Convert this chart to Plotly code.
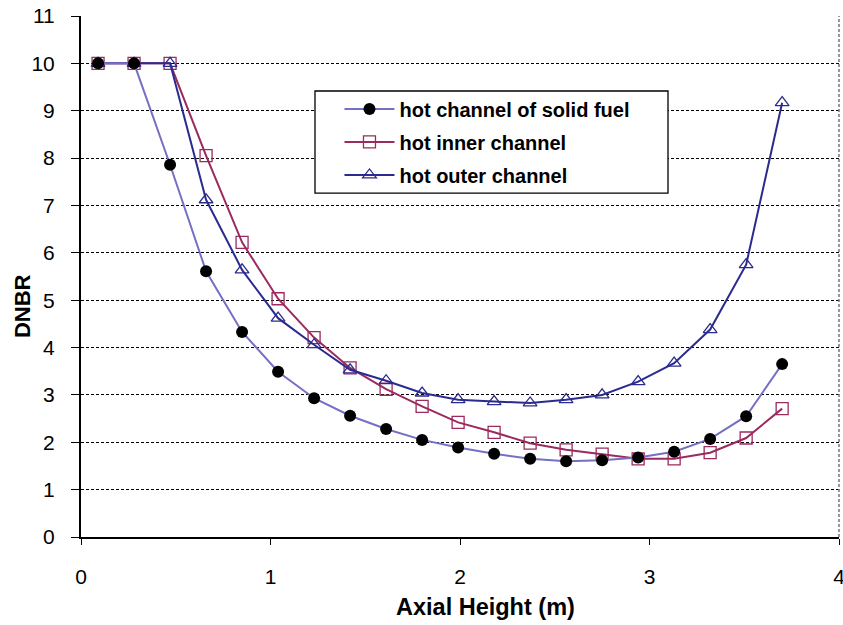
import plotly.graph_objects as go

# Axial positions (m) of the calculation nodes
axial_height = [0.09, 0.28, 0.47, 0.66, 0.85, 1.04, 1.23, 1.42, 1.61, 1.80,
                1.99, 2.18, 2.37, 2.56, 2.75, 2.94, 3.13, 3.32, 3.51, 3.70]

# DNBR along the height for each channel
dnbr_solid_fuel = [10, 10, 7.86, 5.61, 4.33, 3.49, 2.93, 2.56, 2.28, 2.05,
                   1.89, 1.76, 1.65, 1.60, 1.62, 1.68, 1.80, 2.07, 2.55, 3.65]
dnbr_inner = [10, 10, 10, 8.05, 6.22, 5.03, 4.21, 3.57, 3.12, 2.76,
              2.42, 2.21, 1.98, 1.84, 1.75, 1.65, 1.65, 1.78, 2.09, 2.71]
dnbr_outer = [10, 10, 10, 7.12, 5.64, 4.62, 4.06, 3.53, 3.30, 3.04,
              2.90, 2.86, 2.83, 2.90, 3.00, 3.28, 3.67, 4.38, 5.75, 9.17]

x_ticks = [0, 1, 2, 3, 4]
y_ticks = list(range(0, 12))

FONT = "Arial, Liberation Sans, sans-serif"

# (name, values, line colour, marker, legend rank); the filled circles are
# drawn last so they sit on top of the open markers
series = [
    ("hot inner channel", dnbr_inner, "#9B2A5E",
     dict(symbol="square-open", size=12, color="#9B2A5E", line=dict(width=1.3)), 2),
    ("hot outer channel", dnbr_outer, "#2B2B8F",
     dict(symbol="triangle-up-open", size=12, color="#2B2B8F", line=dict(width=1.3)), 3),
    ("hot channel of solid fuel", dnbr_solid_fuel, "#7470C4",
     dict(symbol="circle", size=12, color="black", line=dict(width=0)), 1),
]

fig = go.Figure()
for name, ys, col, mk, rank in series:
    fig.add_trace(go.Scatter(
        x=axial_height, y=ys, name=name, mode="lines+markers",
        line=dict(color=col, width=2),
        marker=mk, legendgroup=name, legendrank=rank,
    ))

fig.update_layout(
    width=843, height=625,
    margin=dict(l=81, r=4, t=16, b=88),
    paper_bgcolor="white", plot_bgcolor="white",
    font=dict(family=FONT, color="black"),
    showlegend=True,
    legend=dict(
        x=0.341, y=0.859, xanchor="left", yanchor="top",
        bgcolor="rgba(0,0,0,0)", borderwidth=0,
        font=dict(family=FONT, size=20, color="black", weight="bold"),
        tracegroupgap=4, traceorder="grouped", itemwidth=50,
    ),
    xaxis=dict(
        range=[0, 4], tickvals=x_ticks, showgrid=False, zeroline=False,
        showline=True, linecolor="black", linewidth=2,
        ticks="outside", ticklen=6, tickcolor="black", ticklabelstandoff=14,
        ticklabeloverflow="allow", automargin=False,
        tickfont=dict(size=21, family=FONT),
    ),
    yaxis=dict(
        range=[0, 11], tickvals=y_ticks, showgrid=True, gridcolor="black",
        gridwidth=1, griddash="3px,2px", zeroline=False,
        showline=True, linecolor="black", linewidth=2,
        ticks="outside", ticklen=8, tickcolor="black", ticklabelstandoff=12,
        tickfont=dict(size=21, family=FONT),
    ),
    annotations=[
        dict(text="<b>Axial Height (m)</b>", xref="paper", yref="paper",
             x=0.534, y=-0.134, xanchor="center", yanchor="middle",
             showarrow=False, font=dict(size=23.5, family=FONT)),
        dict(text="<b>DNBR</b>", xref="paper", yref="paper",
             x=-0.078, y=0.443, xanchor="center", yanchor="middle",
             textangle=-90, showarrow=False, font=dict(size=22, family=FONT)),
    ],
)

# legend frame (white box over the gridlines)
fig.add_shape(type="rect", xref="paper", yref="paper",
              x0=0.3087, x1=0.7744, y0=0.660, y1=0.856, layer="above",
              fillcolor="white", line=dict(color="black", width=1.3))

# right-hand frame edge of the plotting area
fig.add_shape(type="line", xref="paper", yref="paper", x0=1, x1=1, y0=0, y1=1,
              line=dict(color="#777777", width=1.5, dash="3px,2px"))

fig.write_html("out.html")
